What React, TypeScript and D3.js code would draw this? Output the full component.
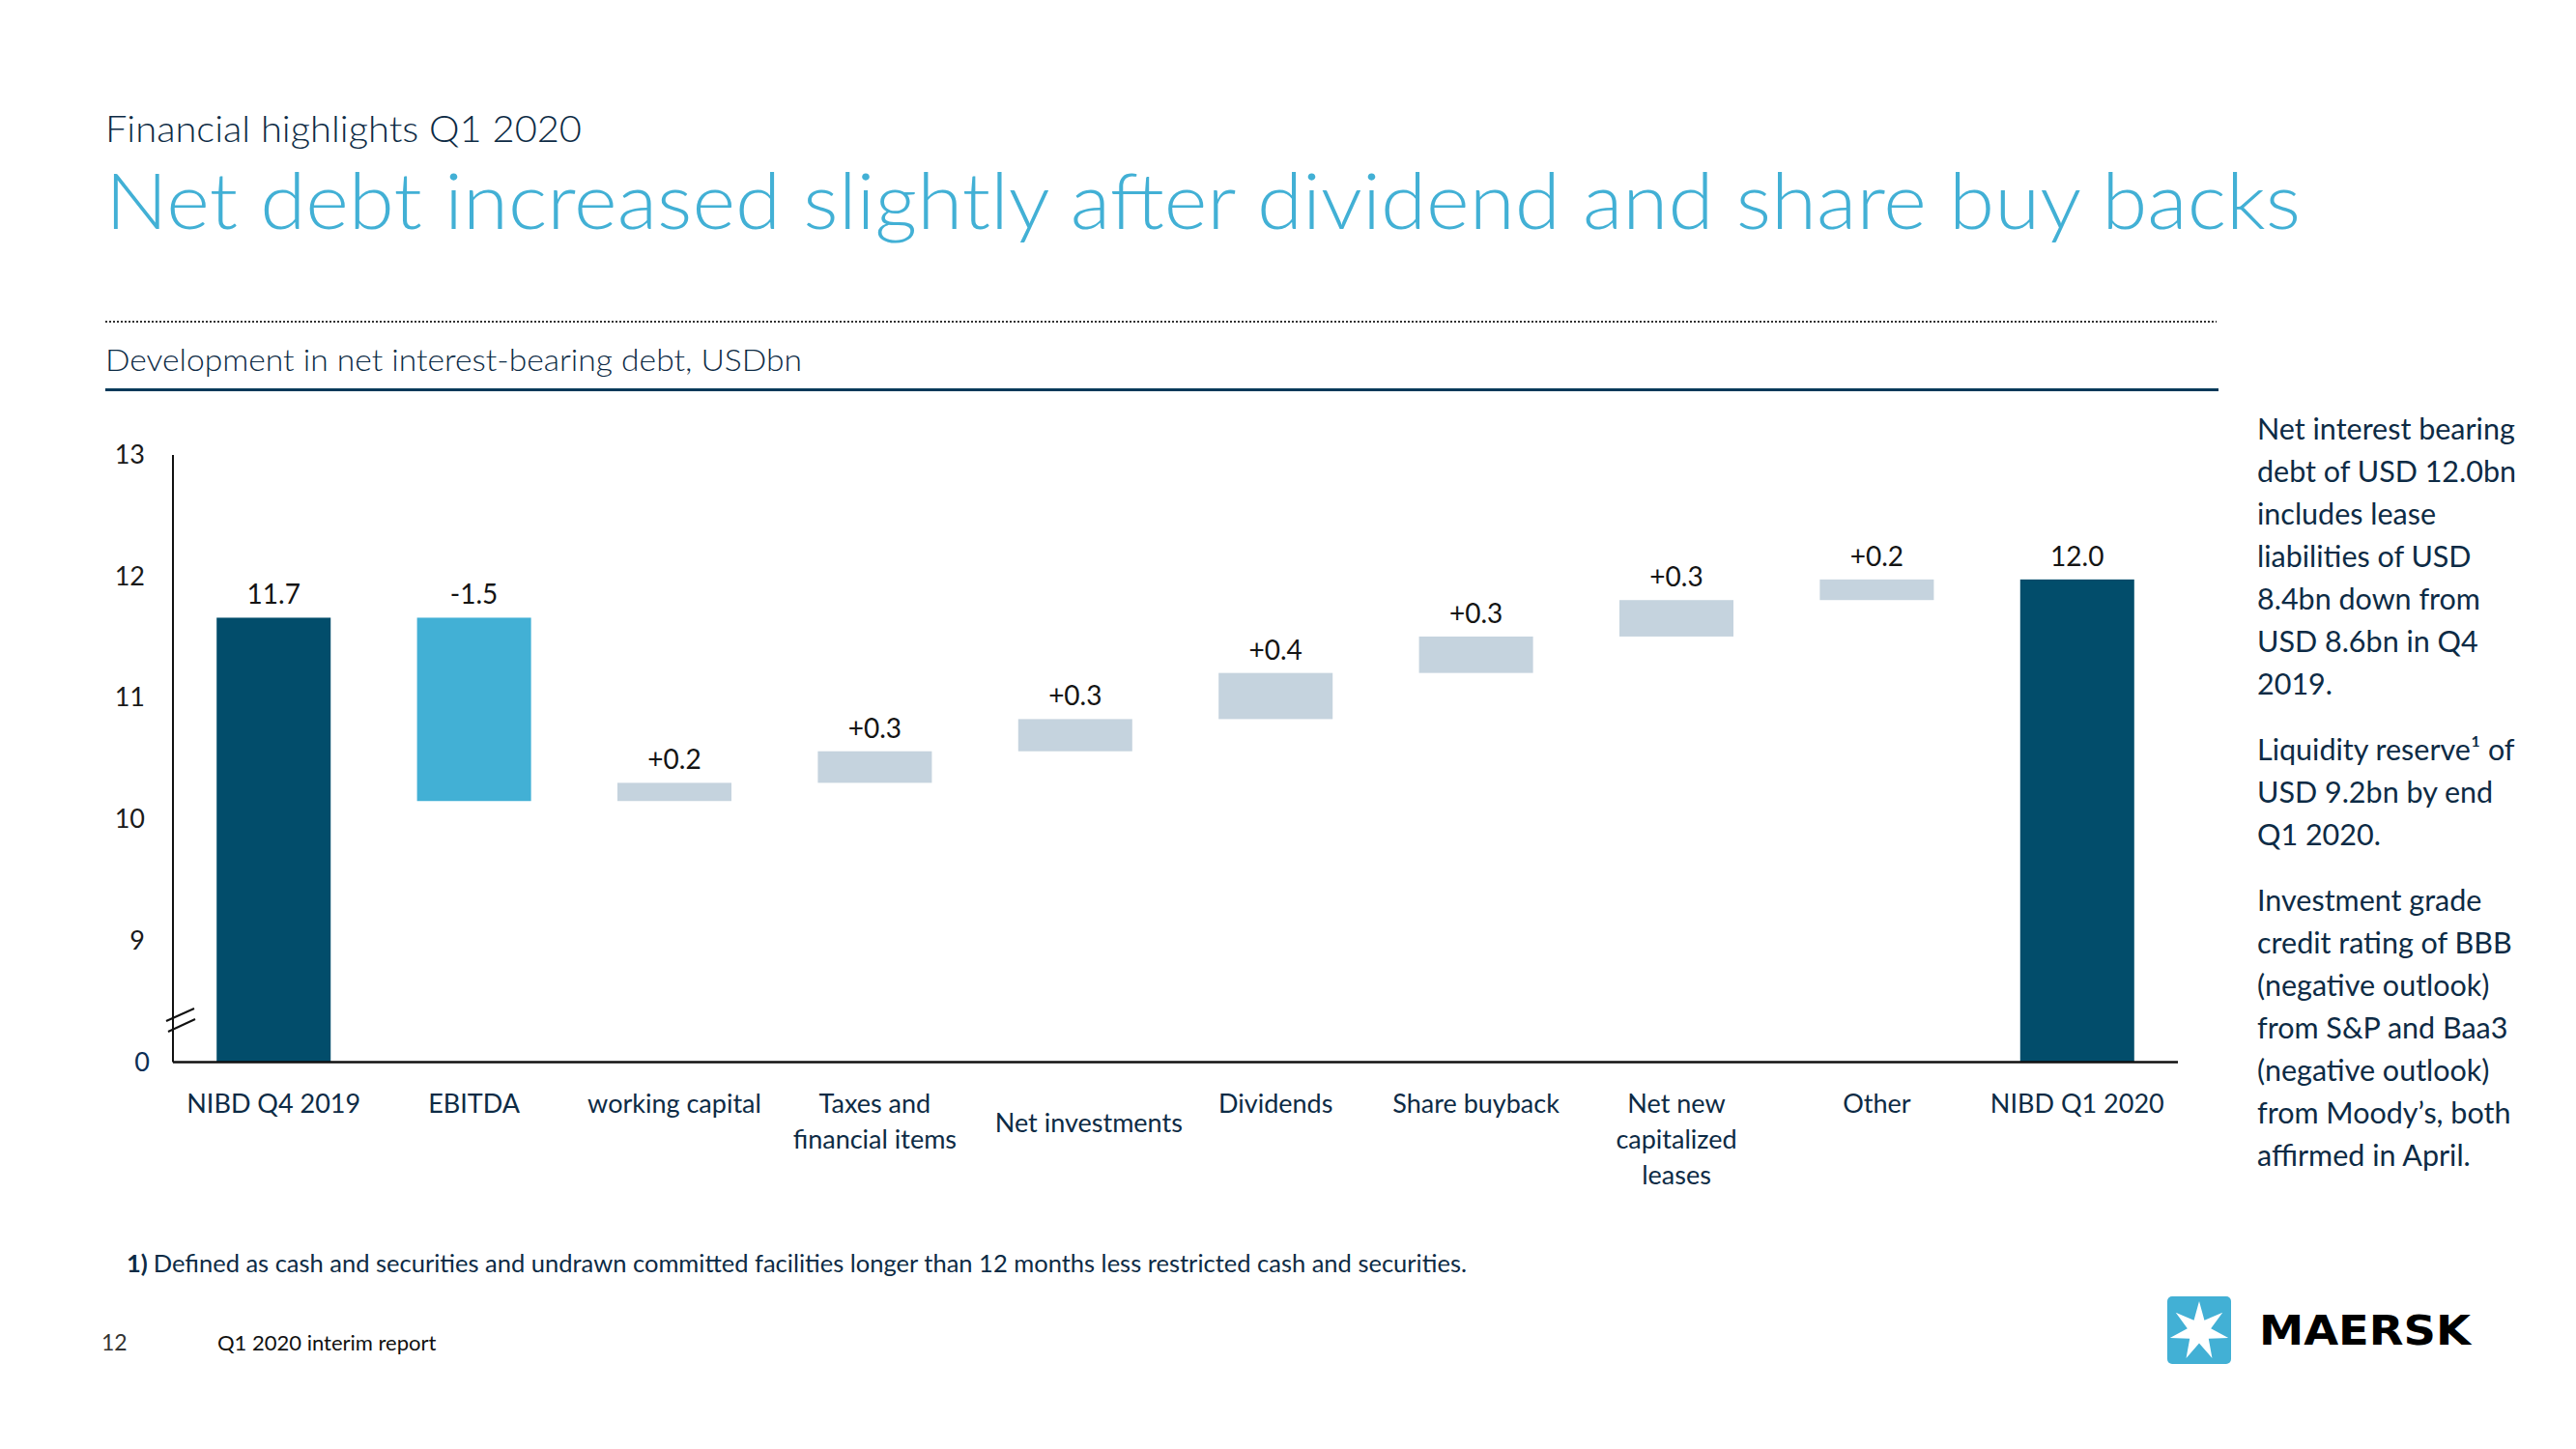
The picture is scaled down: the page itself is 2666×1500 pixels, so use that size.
import React from "react";
import * as d3 from "d3";

const categoryLines: string[][] = [
  ["NIBD Q4 2019"],
  ["EBITDA"],
  ["working capital"],
  ["Taxes and", "financial items"],
  ["Net investments"],
  ["Dividends"],
  ["Share buyback"],
  ["Net new", "capitalized", "leases"],
  ["Other"],
  ["NIBD Q1 2020"],
];
const categories = categoryLines.map((l) => l.join(" "));
const barTypes = ["total", "decrease", "increase", "increase", "increase", "increase", "increase", "increase", "increase", "total"];
const changes = [11.66, -1.51, 0.15, 0.26, 0.265, 0.38, 0.3, 0.3, 0.17, 0];
const valueLabels = ["11.7", "-1.5", "+0.2", "+0.3", "+0.3", "+0.4", "+0.3", "+0.3", "+0.2", "12.0"];
const yTicks = [8, 9, 10, 11, 12, 13];
const yTickLabels = ["0", "9", "10", "11", "12", "13"];
const axisBase = 8;

const sideParagraphs: string[][] = [
  ["Net interest bearing", "debt of USD 12.0bn", "includes lease", "liabilities of USD", "8.4bn down from", "USD 8.6bn in Q4", "2019."],
  ["Liquidity reserve¹ of", "USD 9.2bn by end", "Q1 2020."],
  ["Investment grade", "credit rating of BBB", "(negative outlook)", "from S&P and Baa3", "(negative outlook)", "from Moody’s, both", "affirmed in April."],
];

const COLORS = {
  total: "#024d6b",
  decrease: "#42b0d5",
  increase: "#c5d3de",
};
const FONT = "Lato, 'Open Sans', sans-serif";
const NAVY = "#0d2b45";

export default function App() {
  const W = 2666;
  const H = 1500;
  const axisX = 179;
  const axisRight = 2254;
  const y = d3.scaleLinear().domain([8, 13]).range([1099.5, 471]);
  const x = d3
    .scaleBand<string>()
    .domain(categories)
    .range([axisX, axisRight])
    .paddingInner(0.431)
    .paddingOuter(0.218);

  // waterfall computation
  let running = 0;
  const bars = categories.map((c, i) => {
    const t = barTypes[i];
    let lo: number, hi: number;
    if (t === "total") {
      if (i === 0) running = changes[i];
      lo = axisBase;
      hi = running;
    } else {
      const prev = running;
      running = running + changes[i];
      lo = Math.min(prev, running);
      hi = Math.max(prev, running);
    }
    return { c, t, lo, hi, label: valueLabels[i], lines: categoryLines[i] };
  });

  // 7-pointed star for logo
  const cx = 2276, cy = 1378, ro = 31, ri = 12.5;
  const starPts: string[] = [];
  for (let k = 0; k < 14; k++) {
    const r = k % 2 === 0 ? ro : ri;
    const a = -Math.PI / 2 + (k * Math.PI) / 7;
    starPts.push(`${cx + r * Math.cos(a)},${cy + r * Math.sin(a)}`);
  }

  let sideY = 455;
  const sideLines: { t: string; y: number }[] = [];
  sideParagraphs.forEach((p, pi) => {
    if (pi > 0) sideY += 24;
    p.forEach((t) => {
      sideLines.push({ t, y: sideY });
      sideY += 44;
    });
  });

  return (
    <svg
      width={W}
      height={H}
      viewBox={`0 0 ${W} ${H}`}
      style={{ position: "absolute", left: 0, top: 0, display: "block", background: "#fff" }}
      fontFamily={FONT}
    >
      <rect x={0} y={0} width={W} height={H} fill="#fff" />
      {/* headers */}
      <text x={109} y={147} fontSize={38} fill={NAVY} fontWeight={300} textLength={493} lengthAdjust="spacingAndGlyphs">
        Financial highlights Q1 2020
      </text>
      <text x={109} y={237} fontSize={80} fill="#42b0d5" fontWeight={300} textLength={2272} lengthAdjust="spacingAndGlyphs">
        Net debt increased slightly after dividend and share buy backs
      </text>
      <line x1={109} x2={2294} y1={333} y2={333} stroke="#333" strokeWidth={2} strokeDasharray="2,2" />
      <text x={109} y={384} fontSize={31} fill={NAVY} fontWeight={300} textLength={721} lengthAdjust="spacingAndGlyphs">
        Development in net interest-bearing debt, USDbn
      </text>
      <line x1={109} x2={2296} y1={403.5} y2={403.5} stroke="#063a5a" strokeWidth={3} />

      {/* y axis */}
      <line x1={axisX} x2={axisX} y1={y(13)} y2={y(8)} stroke="#111" strokeWidth={2} />
      {yTicks.map((t, i) => (
        <text
          key={t}
          x={i === 0 ? 155 : 150}
          y={y(t) + 9}
          fontSize={27}
          textAnchor="end"
          fill={i === 0 ? "#0b2f55" : "#1a1a1a"}
        >
          {yTickLabels[i]}
        </text>
      ))}
      {/* axis break */}
      <line x1={172} x2={201} y1={1057} y2={1044} stroke="#111" strokeWidth={2} />
      <line x1={174} x2={202} y1={1068} y2={1055} stroke="#111" strokeWidth={2} />

      {/* bars */}
      {bars.map((b) => (
        <g key={b.c}>
          <rect
            x={x(b.c)}
            y={y(b.hi)}
            width={x.bandwidth()}
            height={y(b.lo) - y(b.hi)}
            fill={(COLORS as any)[b.t]}
          />
          <text
            x={(x(b.c) as number) + x.bandwidth() / 2}
            y={y(b.hi) - 14}
            fontSize={28}
            textAnchor="middle"
            fill="#141414"
          >
            {b.label}
          </text>
        </g>
      ))}

      {/* x axis */}
      <line x1={axisX} x2={axisRight} y1={y(8)} y2={y(8)} stroke="#111" strokeWidth={2.5} />
      {bars.map((b) => {
        const cxl = (x(b.c) as number) + x.bandwidth() / 2 + (b.c === "Net investments" ? 14 : 0);
        const y0 = b.c === "Net investments" ? 1172 : 1152;
        return (
          <text key={"l" + b.c} textAnchor="middle" fontSize={27} fill={NAVY}>
            {b.lines.map((ln, k) => (
              <tspan key={k} x={cxl} y={y0 + k * 37}>
                {ln}
              </tspan>
            ))}
          </text>
        );
      })}

      {/* side text */}
      {sideLines.map((l, i) => (
        <text key={i} x={2336} y={l.y} fontSize={30.5} fill={NAVY}>
          {l.t}
        </text>
      ))}

      {/* footnote */}
      <text x={131} y={1317} fontSize={25.5} fill={NAVY}>
        <tspan fontWeight={700}>1)</tspan>
        <tspan dx={6}>Defined as cash and securities and undrawn committed facilities longer than 12 months less restricted cash and securities.</tspan>
      </text>

      {/* page footer */}
      <text x={105} y={1398} fontSize={23} fill="#333">12</text>
      <text x={225} y={1398} fontSize={22} fill="#111">Q1 2020 interim report</text>

      {/* logo */}
      <rect x={2243} y={1342} width={66} height={70} rx={5} fill="#42b0d5" />
      <polygon points={starPts.join(" ")} fill="#fff" />
      <text
        x={2338}
        y={1392}
        fontSize={42}
        fontWeight={700}
        fontFamily="'DejaVu Sans', sans-serif"
        fill="#000"
        textLength={219}
        lengthAdjust="spacingAndGlyphs"
      >
        MAERSK
      </text>
    </svg>
  );
}
